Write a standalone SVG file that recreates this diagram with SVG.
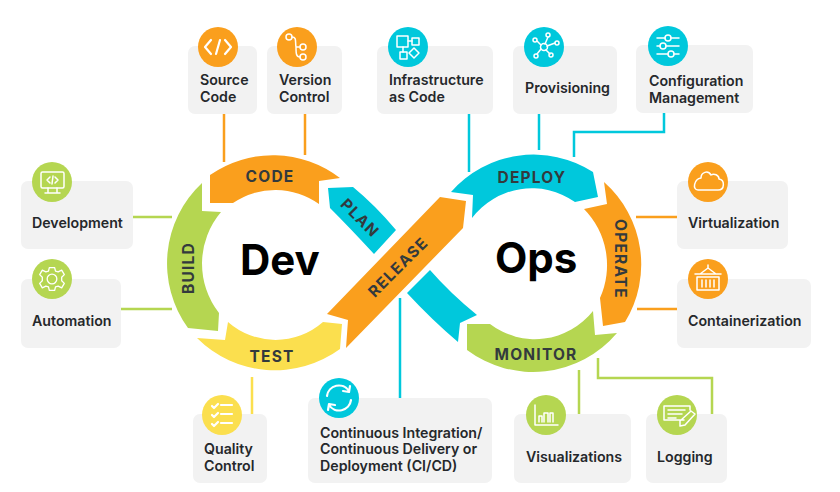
<svg xmlns="http://www.w3.org/2000/svg" width="840" height="492" viewBox="0 0 840 492">
<style>
.card{fill:#f2f2f2}
.t{font-family:Inter,"Liberation Sans",sans-serif;font-size:14.2px;font-weight:600;fill:#25282b}
.b{font-family:Inter,"Liberation Sans",sans-serif;font-size:15.5px;font-weight:700;fill:#333a3d;letter-spacing:1.2px;text-anchor:middle;dominant-baseline:central}
.h{font-family:Inter,"Liberation Sans",sans-serif;font-size:42px;font-weight:700;fill:#000}
.c{fill:none;stroke-width:2.5}
.i{fill:none;stroke:#fff;stroke-width:1.5;stroke-linecap:round;stroke-linejoin:round}
.i2{fill:none;stroke:#fff;stroke-width:2.2;stroke-linecap:round;stroke-linejoin:round}
.o{fill:#fa9f1d}.g{fill:#b5d651}.y{fill:#fbdf4e}.a{fill:#00c8dc}
.so{stroke:#fa9f1d}.sg{stroke:#b5d651}.sy{stroke:#fbdf4e}.sa{stroke:#00c8dc}
</style>
<rect width="840" height="492" fill="#fff"/>
<g id="connectors">
<path class="c so" d="M224 114V162"/>
<path class="c so" d="M305 114V155"/>
<path class="c sa" d="M469 114V172"/>
<path class="c sa" d="M539 114V150"/>
<path class="c sa" d="M664 113V132H574V157"/>
<path class="c sg" d="M133 217H172"/>
<path class="c sg" d="M121 309H172"/>
<path class="c so" d="M636 217H677"/>
<path class="c so" d="M637 309H677"/>
<path class="c sy" d="M252 377V414"/>
<path class="c sa" d="M400 298V398"/>
<path class="c sg" d="M579 370V414"/>
<path class="c sg" d="M598 358V378H712V414"/>
</g>
<g id="loop">
<g id="code"><path class="o" d="M210 175A110 110 0 0 1 340 178L319 181L319 204A75 75 0 0 0 233 203L210 203Z"/><text class="b" x="270" y="176">CODE</text></g>
<g id="build"><path class="g" d="M202 183L202 211L221 212A80 80 0 0 0 219 313L218 331L188 328A110 110 0 0 1 202 183Z"/><text class="b" transform="translate(188 268) rotate(-90)">BUILD</text></g>
<g id="test"><path class="y" d="M197 338L225 340L228 322A72 72 0 0 0 323 322L342 324L340 349A110 110 0 0 1 197 338Z"/><text class="b" x="272" y="356">TEST</text></g>
<g id="plan"><path class="a" d="M328 188L353 187Q375 205 396 230L374 254Q350 228 330 208Z"/><text class="b" transform="translate(360 218) rotate(45)">PLAN</text></g>
<g id="plan-tail"><path class="a" d="M407 293L430 270Q450 293 477 315L460 323L458 342Q432 320 407 293Z"/></g>
<g id="release"><path class="o" d="M327 314L440 197L466 201L463 228L346 348L348 320Z"/><text class="b" transform="translate(398 267) rotate(-45)">RELEASE</text></g>
<g id="deploy"><path class="a" d="M451 192A110 110 0 0 1 593 172L598 197L575 202A75 75 0 0 0 472 218L473 195Z"/><text class="b" x="532" y="177">DEPLOY</text></g>
<g id="operate"><path class="o" d="M604 182A110 110 0 0 1 625 322L603 326L600 298A80 80 0 0 0 584 209L607 204Z"/><text class="b" transform="translate(620 259) rotate(90)">OPERATE</text></g>
<g id="monitor"><path class="g" d="M617 333L595 335L593 311A74 74 0 0 1 490 324L467 324L467 350A110 110 0 0 0 617 333Z"/><text class="b" x="536" y="354">MONITOR</text></g>
<text class="h" x="240" y="275">Dev</text>
<text class="h" x="495" y="273">Ops</text>
</g>
<g id="source-code"><rect class="card" x="188" y="46" width="69" height="68" rx="7"/><circle class="o" cx="218" cy="47" r="20"/>
<path class="i2" d="M211 40L205 47L211 54M225 40L231 47L225 54M220 40L216 54"/>
<text class="t"><tspan x="200" y="85">Source</tspan><tspan x="200" y="102">Code</tspan></text></g>
<g id="version-control"><rect class="card" x="267" y="46" width="75" height="68" rx="7"/><circle class="o" cx="297" cy="47" r="20"/>
<g class="i"><circle cx="289" cy="37" r="3"/><circle cx="303" cy="47" r="3"/><circle cx="303" cy="57" r="3"/><path d="M292 37C297 37 295 42 296 47H300M296 47C296 53 296 57 300 57"/></g>
<text class="t"><tspan x="279" y="85">Version</tspan><tspan x="279" y="102">Control</tspan></text></g>
<g id="infrastructure-as-code"><rect class="card" x="377" y="46" width="116" height="68" rx="7"/><circle class="a" cx="408" cy="47" r="20"/>
<g class="i"><rect x="397" y="36" width="11" height="11"/><rect x="412" y="38" width="7" height="7"/><rect x="400" y="52" width="7" height="7"/><path d="M414 48L419 53L414 58L409 53Z"/><path d="M408 41H412M403 47V52"/></g>
<text class="t"><tspan x="389" y="85">Infrastructure</tspan><tspan x="389" y="102">as Code</tspan></text></g>
<g id="provisioning"><rect class="card" x="513" y="46" width="104" height="68" rx="7"/><circle class="a" cx="544" cy="47" r="20"/>
<g class="i"><circle cx="544" cy="47" r="3.5"/><circle cx="535" cy="40" r="2"/><circle cx="548" cy="35" r="2"/><circle cx="557" cy="43" r="2"/><circle cx="551" cy="55" r="2"/><circle cx="536" cy="56" r="2"/><path d="M541 45L537 41M545 44L548 37M547 46L555 43M546 50L550 54M541 49L537 54"/></g>
<text class="t" x="525" y="93">Provisioning</text></g>
<g id="configuration-management"><rect class="card" x="636" y="45" width="117" height="68" rx="7"/><circle class="a" cx="668" cy="46" r="20"/>
<g class="i"><path d="M657 38H665M671 38H679M657 46H660M666 46H679M657 54H668M674 54H679"/><circle cx="668" cy="38" r="3"/><circle cx="663" cy="46" r="3"/><circle cx="671" cy="54" r="3"/></g>
<text class="t"><tspan x="649" y="86">Configuration</tspan><tspan x="649" y="103">Management</tspan></text></g>
<g id="development"><rect class="card" x="21" y="181" width="112" height="68" rx="7"/><circle class="g" cx="52" cy="182" r="20"/>
<g class="i"><rect x="41" y="172" width="23" height="16" rx="1.500"/><path d="M48 192V188M57 192V188M45 193H60M50 177L47 180L50 183M55 177L58 180L55 183M53 176L52 184"/></g>
<text class="t" x="32" y="228">Development</text></g>
<g id="automation"><rect class="card" x="21" y="279" width="100" height="69" rx="7"/><circle class="g" cx="52" cy="279" r="20"/>
<g class="i" transform="translate(52 279) scale(.88) translate(-52 -279)"><circle cx="52" cy="279" r="5.500"/><path d="M49 266H55L56 270L59 271L63 269L66 274L63 277V281L66 284L63 289L59 287L56 288L55 292H49L48 288L45 287L41 289L38 284L41 281V277L38 274L41 269L45 271L48 270Z"/></g>
<text class="t" x="32" y="326">Automation</text></g>
<g id="virtualization"><rect class="card" x="677" y="181" width="111" height="68" rx="7"/><circle class="o" cx="708" cy="182" r="20"/>
<path class="i" d="M698 190H718C725 190 725 180 719 179C719 175 714 173 711 175C708 170 701 172 701 178C694 179 692 190 698 190Z"/>
<text class="t" x="688" y="228">Virtualization</text></g>
<g id="containerization"><rect class="card" x="677" y="279" width="134" height="69" rx="7"/><circle class="o" cx="708" cy="279" r="20"/>
<g class="i"><rect x="697" y="277" width="22" height="13"/><path d="M695 274H721M700 274L708 268L716 274M708 265V268M702 280V287M706 280V287M710 280V287M714 280V287"/></g>
<text class="t" x="688" y="326">Containerization</text></g>
<g id="quality-control"><rect class="card" x="193" y="414" width="74" height="69" rx="7"/><circle class="y" cx="222" cy="415" r="20"/>
<g class="i2"><path d="M212 406L214 408L218 404M212 415L214 417L218 413M212 424L214 426L218 422M221 405H232M221 414H232M221 423H232"/></g>
<text class="t"><tspan x="204" y="454">Quality</tspan><tspan x="204" y="471">Control</tspan></text></g>
<g id="ci-cd"><rect class="card" x="308" y="398" width="184" height="85" rx="7"/><circle class="a" cx="339" cy="398" r="20"/>
<g class="i2"><path d="M327 396A12 12 0 0 1 349 391M351 400A12 12 0 0 1 329 405M350 386L349 392L343 391M328 410L329 404L335 405"/></g>
<text class="t"><tspan x="320" y="438">Continuous Integration/</tspan><tspan x="320" y="454">Continuous Delivery or</tspan><tspan x="320" y="471">Deployment (CI/CD)</tspan></text></g>
<g id="visualizations"><rect class="card" x="514" y="414" width="117" height="69" rx="7"/><circle class="g" cx="546" cy="415" r="20"/>
<g class="i"><path d="M535 405V425H558M539 422V416H542V422M544 422V413H548V422M550 422V413H553V422"/></g>
<text class="t" x="526" y="462">Visualizations</text></g>
<g id="logging"><rect class="card" x="646" y="414" width="81" height="69" rx="7"/><circle class="g" cx="677" cy="415" r="20"/>
<g class="i"><path d="M684 420H664V406H690V410M668 410H685M668 414H682M668 418H676M691 411L695 414L685 425L680 426L680 421Z"/></g>
<text class="t" x="657" y="462">Logging</text></g>
</svg>
